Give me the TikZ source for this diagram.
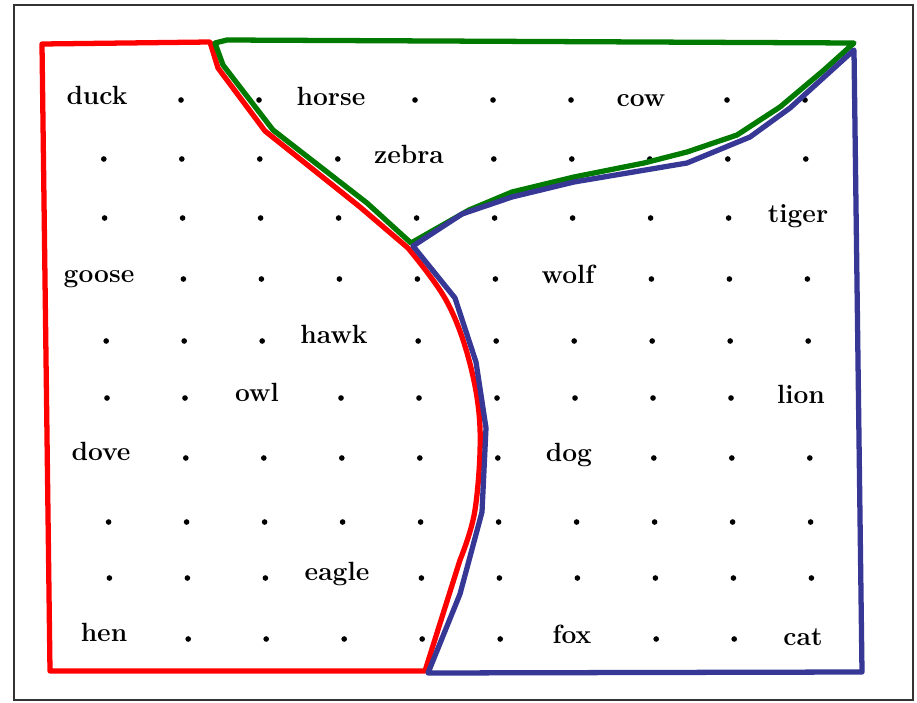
\documentclass[tikz,border=0pt]{standalone}
\usetikzlibrary{calc}
\definecolor{redline}{RGB}{255,0,0}
\definecolor{greenline}{RGB}{0,122,0}
\definecolor{blueline}{RGB}{55,55,150}
\begin{document}
\begin{tikzpicture}[
  x=0.02cm, y=-0.02cm,
  animal/.style={anchor=base, inner sep=0pt, font=\bfseries\fontsize{15}{17}\selectfont},
  region/.style={line width=3pt, line join=round, line cap=round}
]
\useasboundingbox (0,0) rectangle (917,703);
\draw[line width=0.8pt, black!80] (14,5) rectangle (913,700);

\foreach \r/\y/\cols in {0/100/{2,3,5,6,7,9,10}, 1/159/{1,2,3,4,6,7,8,9,10},
    2/218/{1,2,3,4,5,6,7,8,9}, 3/279/{2,3,4,5,6,8,9,10}, 4/341/{1,2,3,5,6,7,8,9,10},
    5/398/{1,2,4,5,6,7,8,9}, 6/458/{2,3,4,5,6,8,9,10}, 7/522/{1,2,3,4,5,6,7,8,9,10},
    8/578/{1,2,3,5,6,7,8,9,10}, 9/639/{2,3,4,5,6,8,9}}
  \foreach \c in \cols {
    \pgfmathsetmacro\xx{103+78*(\c-1)+0.8*\r}
    \fill (\xx,\y) circle[radius=1.6pt];
  }

\node[animal] (duck) at (97,104) {duck};
\node[animal] (horse) at (331,105) {horse};
\node[animal] (cow) at (641,106) {cow};
\node[animal] (zebra) at (409,163) {zebra};
\node[animal] (tiger) at (798,222) {tiger};
\node[animal] (goose) at (99,282) {goose};
\node[animal] (wolf) at (568,283) {wolf};
\node[animal] (hawk) at (334,343) {hawk};
\node[animal] (owl) at (257,401) {owl};
\node[animal] (lion) at (801,403) {lion};
\node[animal] (dove) at (101,460) {dove};
\node[animal] (dog) at (569,461) {dog};
\node[animal] (eagle) at (337,580) {eagle};
\node[animal] (hen) at (104,641) {hen};
\node[animal] (fox) at (572,643) {fox};
\node[animal] (cat) at (803,645) {cat};

\draw[region, redline] (42,44) -- (210,42) -- (218,68) -- (265,131) -- (360,207)
  -- plot[smooth, tension=0.6] coordinates {(408,248) (446,300) (469,360) (480,428) (475,510) (460,560)}
  -- (425,671) -- (50,671) -- cycle;
\draw[region, greenline] (215,43) -- (227,40) -- (854,43) -- (824,70) -- (780,107) -- (737,135)
  -- (687,152) -- (644,163) -- (574,177) -- (512,192) -- (469,210) -- (411,243)
  -- (367,203) -- (273,130) -- (223,65) -- cycle;
\draw[region, blueline] (413,246) -- (462,214) -- (512,197) -- (574,182) -- (687,163)
  -- (750,137) -- (790,108) -- (854,50) -- (862,672) -- (428,673) -- (460,594)
  -- (482,512) -- (486,428) -- (476,362) -- (455,298) -- cycle;
\end{tikzpicture}
\end{document}
